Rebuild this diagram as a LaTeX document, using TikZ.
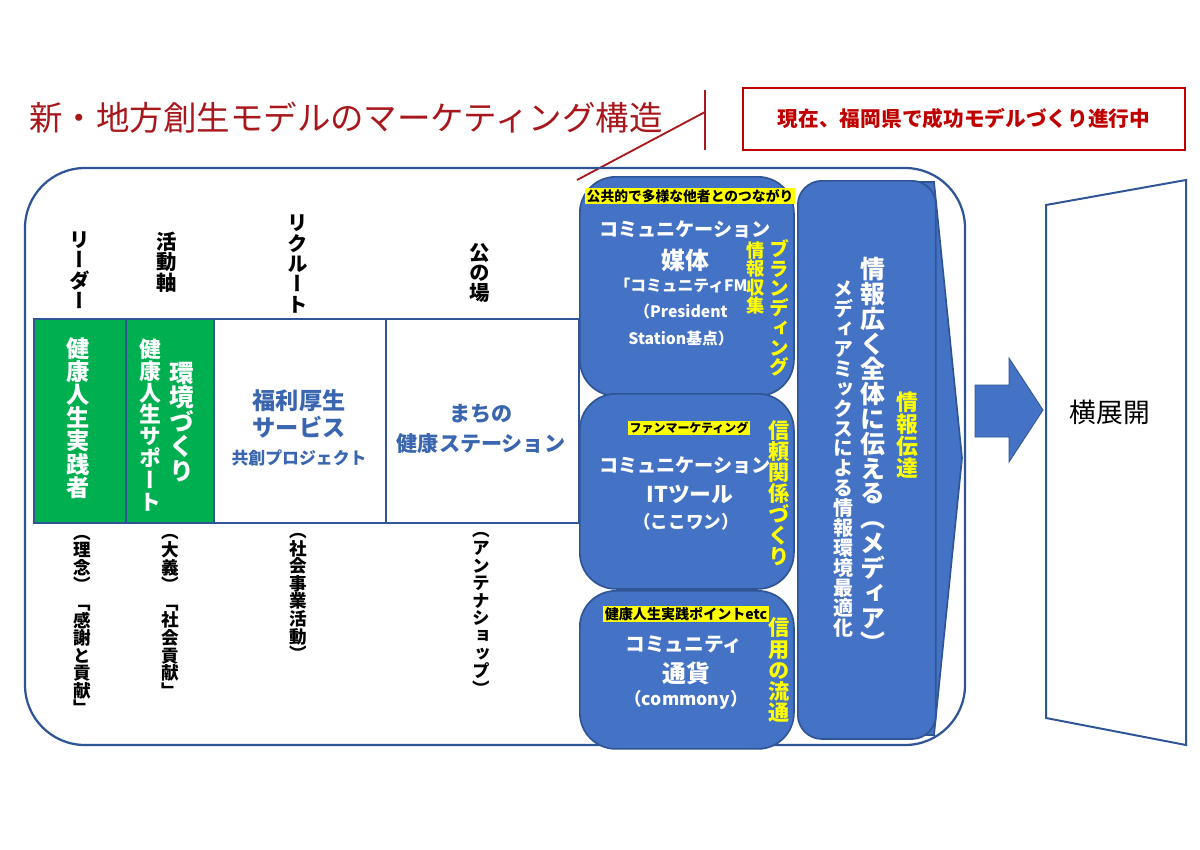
\documentclass[tikz,border=0pt]{standalone}
\usepackage{fontspec}
\setmainfont{Noto Sans CJK JP}
\newfontfamily\vjp[RawFeature=+vert]{Noto Sans CJK JP}
\usepackage{tikz}
\usetikzlibrary{positioning}
\definecolor{frameblue}{HTML}{2F5597}
\definecolor{fillblue}{HTML}{4472C4}
\definecolor{textblue}{HTML}{3A66B0}
\definecolor{leafgreen}{HTML}{00B050}
\definecolor{titlered}{HTML}{A8171C}
\definecolor{boxred}{HTML}{C00000}
\definecolor{marker}{HTML}{FFFF00}
\makeatletter
% stack the characters of #1 one below the other
\newcommand\tate[1]{\vbox{\baselineskip=1.0em\lineskiplimit=-\maxdimen\lineskip=0pt
  \@tfor\tate@c:=#1\do{\hbox to 1em{\hss\tate@c\hss}}}}
\makeatother
\tikzset{
  frame/.style={draw=frameblue,line width=1.6pt},
  gbox/.style={draw=frameblue,fill=leafgreen,line width=1.2pt,anchor=north west,minimum height=5.1cm,inner sep=0pt},
  wbox/.style={draw=frameblue,fill=white,line width=1.4pt,anchor=north west,minimum height=5.1cm,inner sep=0pt},
  bbox/.style={draw=frameblue,fill=fillblue,line width=1.2pt,rounded corners=0.9cm,anchor=north west,minimum width=5.35cm,inner sep=0pt},
  tag/.style={fill=marker,text=black,inner sep=1pt},
  wtxt/.style={text=white,align=center,inner sep=0pt},
  btxt/.style={text=textblue,align=center,inner sep=0pt},
  vhead/.style={text=black,inner sep=0pt,font=\vjp\bfseries\fontsize{14.5}{14.5}\selectfont},
  vnote/.style={text=black,inner sep=0pt,font=\vjp\bfseries\fontsize{12.5}{12.5}\selectfont},
  vw/.style={text=white,inner sep=0pt},
  vy/.style={text=marker,inner sep=0pt},
  callout/.style={draw=titlered,line width=1.3pt},
  notebox/.style={draw=boxred,line width=1.4pt,text=boxred,minimum width=11.05cm,minimum height=1.55cm,font=\bfseries\fontsize{14.7}{16}\selectfont}}
\begin{document}
\begin{tikzpicture}[x=0.025cm,y=-0.025cm]
\useasboundingbox (0,0) rectangle (1200,849);
\fill[white] (0,0) rectangle (1200,849);

% title and note
\node[anchor=west,inner sep=0pt,text=titlered,font=\fontsize{23.8}{26}\selectfont] (ttl) at (29,118) {新・地方創生モデルのマーケティング構造};
\coordinate (cv1) at (705,90);
\coordinate (cv2) at (705,150);
\coordinate (ck) at (705,112);
\coordinate (ce) at (577,180);
\draw[callout] (cv1) -- (cv2);
\draw[callout] (ck) -- (ce);
\node[notebox] (note) at (964,119) {現在、福岡県で成功モデルづくり進行中};

% outer frame
\draw[frame,rounded corners=1.5cm] (25,168) rectangle (965,745);

% column heads
\node[vhead] (h1) at (80,270) {\tate{リーダー}};
\node[vhead] (h2) at (167,262) {\tate{活動軸}};
\node[vhead] (h3) at (298,264) {\tate{リクルート}};
\node[vhead] (h4) at (480,273) {\tate{公の場}};

% row of boxes
\node[gbox,minimum width=2.3cm] (leader) at (33,318) {};
\node[gbox,minimum width=2.2cm] (axis) at (125,318) {};
\node[wbox,minimum width=4.3cm] (welfare) at (213,318) {};
\node[wbox,minimum width=4.825cm] (station) at (385,318) {};
\node[vw,font=\vjp\bfseries\fontsize{16.5}{16.5}\selectfont] (t1) at (78,418) {\tate{健康人生実践者}};
\node[vw,font=\vjp\bfseries\fontsize{17.5}{17.5}\selectfont] (t2a) at (182,422) {\tate{環境づくり}};
\node[vw,font=\vjp\bfseries\fontsize{15.5}{15.5}\selectfont] (t2b) at (150,425) {\tate{健康人生サポート}};
\node[btxt,font=\bfseries\fontsize{16.5}{19}\selectfont] (t3) at (299,414) {福利厚生\\サービス};
\node[btxt,font=\bfseries\fontsize{12}{14}\selectfont] (t3b) at (299,458) {共創プロジェクト};
\node[btxt,font=\bfseries\fontsize{15}{21}\selectfont] (t4) at (481,429) {まちの\\健康ステーション};

% notes below
\node[vnote] (n1) at (82,625) {\tate{（理念）「感謝と貢献」}};
\node[vnote] (n2) at (170,616) {\tate{（大義）「社会貢献」}};
\node[vnote] (n3) at (298,597) {\tate{（社会事業活動）}};
\node[vnote] (n4) at (481,614) {\tate{（アンテナショップ）}};

% communication blocks
\node[bbox,minimum height=5.475cm] (media) at (579,176) {};
\node[bbox,minimum height=4.875cm] (ittool) at (579,393) {};
\node[bbox,minimum height=3.95cm] (coin) at (579,590) {};

\node[tag,font=\bfseries\fontsize{9.8}{11}\selectfont] (g1) at (690,196) {公共的で多様な他者とのつながり};
\node[wtxt,font=\bfseries\fontsize{13.6}{16}\selectfont] (m1) at (685,229) {コミュニケーション};
\node[wtxt,font=\bfseries\fontsize{17}{19}\selectfont] (m1b) at (685,260) {媒体};
\node[wtxt,font=\bfseries\fontsize{11.2}{19}\selectfont] (m2) at (681,312) {「コミュニティFM\\（President\\Station基点）};
\node[vy,font=\vjp\bfseries\fontsize{13}{13}\selectfont] (y1) at (756,278) {\tate{情報収集}};
\node[vy,font=\vjp\bfseries\fontsize{14}{14}\selectfont] (y2) at (779,308) {\tate{ブランディング}};

\node[tag,font=\bfseries\fontsize{8.5}{10}\selectfont] (g2) at (689,428) {ファンマーケティング};
\node[wtxt,font=\bfseries\fontsize{13.6}{16}\selectfont] (i1) at (685,465) {コミュニケーション};
\node[wtxt,font=\bfseries\fontsize{15.5}{18}\selectfont] (i1b) at (690,494) {ITツール};
\node[wtxt,font=\bfseries\fontsize{12.5}{14}\selectfont] (i2) at (686,522) {（ここワン）};
\node[vy,font=\vjp\bfseries\fontsize{15}{15}\selectfont] (y3) at (779,493) {\tate{信頼関係づくり}};

\node[tag,font=\bfseries\fontsize{10}{12}\selectfont] (g3) at (686,614) {健康人生実践ポイントetc};
\node[wtxt,font=\bfseries\fontsize{14}{16}\selectfont] (c1) at (684,645) {コミュニティ};
\node[wtxt,font=\bfseries\fontsize{17}{19}\selectfont] (c1b) at (686,673) {通貨};
\node[wtxt,font=\bfseries\fontsize{12.5}{14}\selectfont] (c2) at (686,700) {（commony）};
\node[vy,font=\vjp\bfseries\fontsize{15}{15}\selectfont] (y4) at (779,670) {\tate{信用の流通}};

% media column
\fill[fillblue,draw=frameblue,line width=1.2pt] (880,182) -- (934,182) -- (962,458) -- (934,735) -- (880,735) -- cycle;
\node[bbox,rounded corners=0.6cm,minimum width=3.45cm,minimum height=13.95cm] (spread) at (797,180) {};
\node[vw,font=\vjp\bfseries\fontsize{17.7}{17.7}\selectfont] (s1) at (873,455) {\tate{情報広く全体に伝える（メディア）}};
\node[vw,font=\vjp\bfseries\fontsize{14.2}{14.2}\selectfont] (s2) at (843,459) {\tate{メディアミックスによる情報環境最適化}};
\node[vy,font=\vjp\bfseries\fontsize{15.5}{15.5}\selectfont] (s3) at (907,435) {\tate{情報伝達}};

% arrow and panel
\fill[fillblue,draw=frameblue,line width=0.6pt] (975,385) -- (1009,385) -- (1009,358) -- (1043,410) -- (1009,462) -- (1009,437) -- (975,437) -- cycle;
\draw[frameblue,line width=1.4pt,fill=white] (1046,205) -- (1186,180) -- (1186,745) -- (1046,718) -- cycle;
\node[inner sep=0pt,font=\fontsize{19}{22}\selectfont] (yoko) at (1110,412) {横展開};
\end{tikzpicture}
\end{document}
